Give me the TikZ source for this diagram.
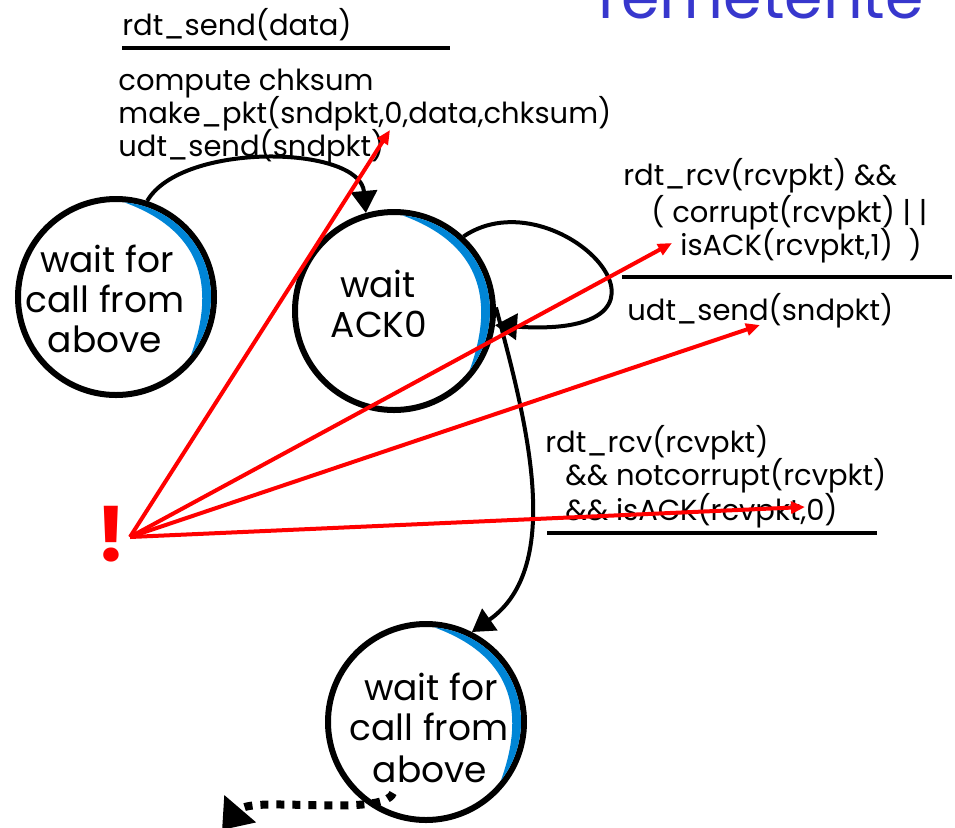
\documentclass[tikz,border=0pt]{standalone}
\usepackage{fontspec}
\setmainfont{Poppins}
\usepackage{tikz}
\usetikzlibrary{arrows.meta,calc}

\definecolor{crescentBlue}{RGB}{0,133,214}
\definecolor{titleBlue}{RGB}{55,55,205}

\tikzset{
  state/.style={draw, circle, line width=3pt, inner sep=0pt},
  stateText/.style={anchor=base, inner sep=0pt, font=\fontsize{18}{20}\selectfont},
  actText/.style={anchor=base west, inner sep=0pt, font=\fontsize{14.5}{16}\selectfont},
  bar/.style={line width=2pt},
  trans/.style={line width=2pt, -{Triangle[length=11pt,width=13pt]}},
  pointer/.style={red, line width=2pt, -{Triangle[length=7pt,width=6pt]}},
  dotTrans/.style={line width=4pt, dash pattern=on 4pt off 4pt, -{Triangle[length=14pt,width=20pt]}}
}

\newcommand{\crescent}[2]{%
  \fill[crescentBlue] ($(#1.center)+(85:#2)$) arc[start angle=85, end angle=-38, radius=#2]
    to[out=70, in=-20, looseness=1.2] ($(#1.center)+(85:#2)$);}

\begin{document}
\begin{tikzpicture}[x=0.5pt, y=-0.5pt]
\useasboundingbox (0,0) rectangle (955,827);
\clip (0,0) rectangle (955,827);

% Title, cut off at the top
\node[anchor=base west, inner sep=0pt, text=titleBlue, font=\fontsize{31}{31}\selectfont] (title) at (598,18) {remetente};

% States
\node[state, minimum size=98pt] (waitCall) at (116,297) {};
\node[state, minimum size=99pt] (waitAck) at (394,311) {};
\node[state, minimum size=98pt] (waitCallNext) at (426,722) {};
\crescent{waitCall}{47.5pt}
\crescent{waitAck}{48pt}
\crescent{waitCallNext}{47.5pt}

\node[stateText] (waitCallA) at (107,272) {wait for};
\node[stateText] (waitCallB) at (105,312) {call from};
\node[stateText] (waitCallC) at (105,352) {above};
\node[stateText] (waitAckA) at (378,297) {wait};
\node[stateText] (waitAckB) at (379,337) {ACK0};
\node[stateText] (waitNextA) at (431,700) {wait for};
\node[stateText] (waitNextB) at (429,740) {call from};
\node[stateText] (waitNextC) at (430,782) {above};

% Send
\node[actText] (sendEvt) at (122,35) {rdt\_send(data)};
\draw[bar] (122,48) -- (450,48);
\node[actText] (sendActA) at (118,90) {compute chksum};
\node[actText] (sendActB) at (118,123) {make\_pkt(sndpkt,0,data,chksum)};
\node[actText] (sendActC) at (118,156) {udt\_send(sndpkt)};

% Resend
\node[actText] (resendEvtA) at (623,185) {rdt\_rcv(rcvpkt) \&\&};
\node[actText] (resendEvtB) at (651,222) {( corrupt(rcvpkt) | |};
\node[actText] (resendEvtC) at (680,255) {isACK(rcvpkt,1) \ )};
\draw[bar] (622,277) -- (952,277);
\node[actText] (resendAct) at (627,320) {udt\_send(sndpkt)};

% Ack received
\node[actText] (ackEvtA) at (545,452) {rdt\_rcv(rcvpkt)};
\node[actText] (ackEvtB) at (565,485) {\&\& notcorrupt(rcvpkt)};
\node[actText] (ackEvtC) at (565,520) {\&\& isACK(rcvpkt,0)};
\draw[bar] (547,533) -- (877,533);

% Transitions
\draw[trans] (waitCall.72) to[out=60, in=95, looseness=0.8] (waitAck.106);
\draw[trans] (waitAck.47) .. controls +(93,-63) and +(220,15) .. (waitAck.-8);
\draw[trans] (waitAck.2) to[out=-75, in=35, looseness=0.9] (waitCallNext.63);
\coordinate (dotStart) at (393,793);
\coordinate (dotEnd) at (222,830);
\draw[dotTrans] (dotStart) .. controls +(-10,25) and +(30,-35) .. (dotEnd);

% Pointers
\coordinate (bang) at (130,537);
\node[text=red, font=\fontsize{38}{38}\selectfont\bfseries, anchor=base, inner sep=0pt] (bangMark) at (111,561) {!};
\coordinate (ptrSend) at (390,130);
\coordinate (ptrAckOne) at (672,243);
\coordinate (ptrResend) at (760,325);
\coordinate (ptrAckZero) at (805,507);
\draw[pointer] (bang) -- (ptrSend);
\draw[pointer] (bang) -- (ptrAckOne);
\draw[pointer] (bang) -- (ptrResend);
\draw[pointer] (bang) -- (ptrAckZero);
\end{tikzpicture}
\end{document}
